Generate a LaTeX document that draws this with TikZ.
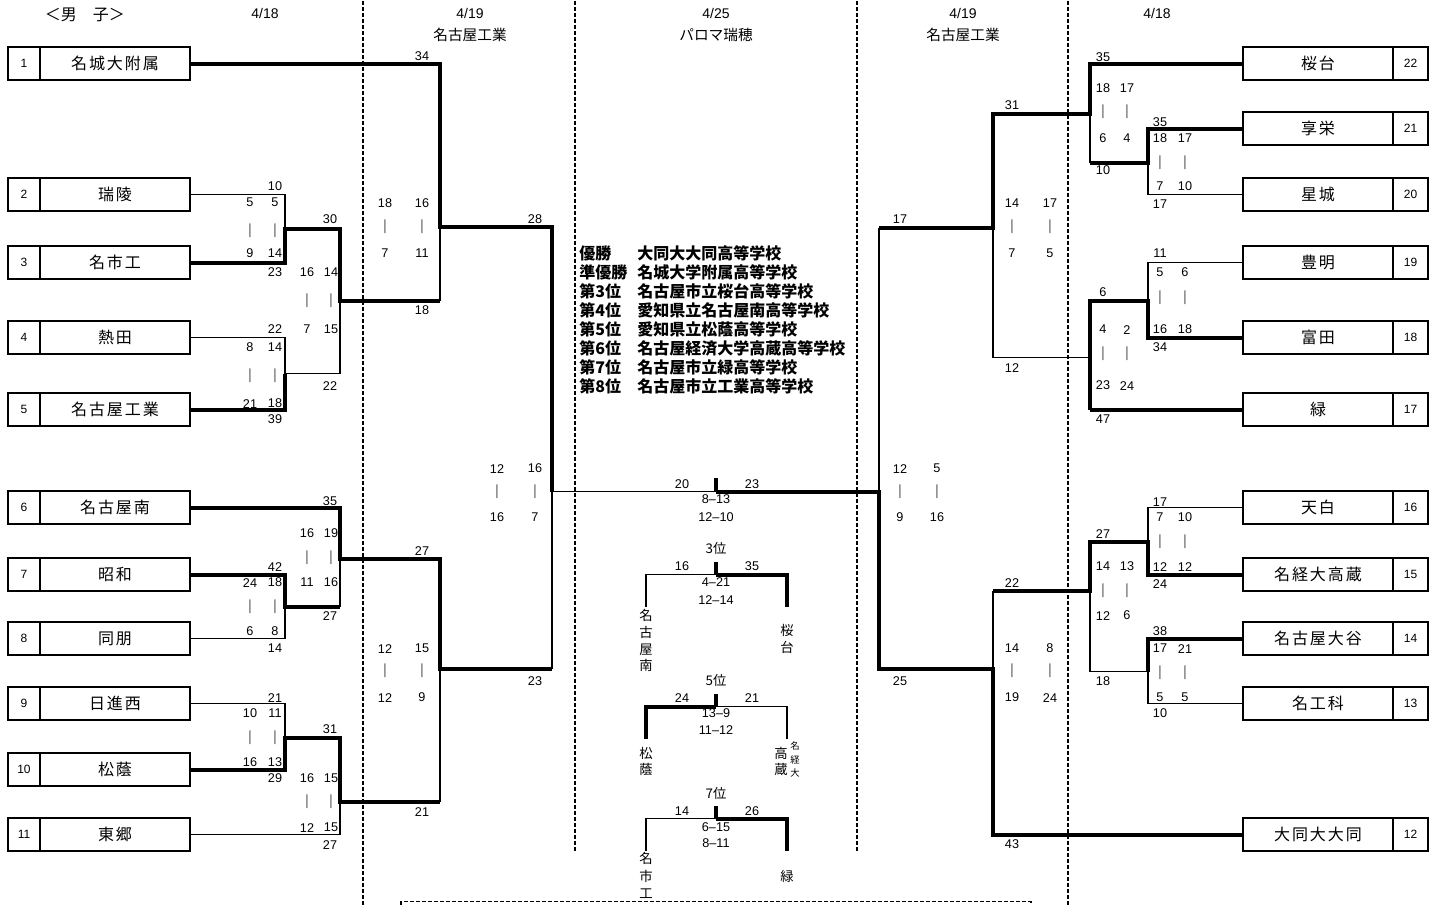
\documentclass[tikz,border=0pt]{standalone}
\usepackage{fontspec}
\setmainfont{Liberation Sans}
\newfontfamily\jp{Noto Sans CJK JP}
\newfontfamily\jpwide[LetterSpace=12]{Noto Sans CJK JP}
\begin{document}
\begin{tikzpicture}[x=0.75pt,y=-0.75pt,
  win/.style={line width=3pt},
  lose/.style={line width=1.1pt},
  sep/.style={line width=0.9pt, dash pattern=on 3pt off 1.5pt},
  teambox/.style={draw, line width=1.3pt, minimum width=112.5pt, minimum height=24.75pt, inner sep=0pt, font=\jpwide\fontsize{12}{14}\selectfont},
  numbox/.style={draw, line width=1.3pt, minimum height=24.75pt, inner sep=0pt, font=\fontsize{9}{10}\selectfont},
  num/.style={inner sep=0pt, font=\fontsize{9.5}{10}\selectfont},
  bar/.style={inner sep=0pt, text=black!60, font=\fontsize{11}{12}\selectfont},
  hdr/.style={inner sep=0pt, font=\fontsize{10.5}{12}\selectfont},
  venue/.style={inner sep=0pt, font=\jp\fontsize{11}{13}\selectfont},
  rank/.style={anchor=west, inner sep=0pt, font=\jp\bfseries\fontsize{12}{14}\selectfont},
  vname/.style={inner sep=0pt, align=center, font=\jp\fontsize{10}{12.5}\selectfont},
]
\path[fill=white] (0,0) rectangle (1436,904);
% day columns
\draw[sep] (363,0) -- (363,904);
\draw[sep] (575,0) -- (575,850);
\draw[sep] (857,0) -- (857,850);
\draw[sep] (1068,0) -- (1068,904);
\draw[sep] (401,904) -- (401,901) -- (1031,901) -- (1031,904);
\node[venue, font=\jp\fontsize{12}{14}\selectfont] (title) at (85,14) {＜男　子＞};
\node[hdr] (d1) at (265,13) {4/18};
\node[hdr] (d2) at (470,13) {4/19};
\node[venue] (v2) at (470,34) {名古屋工業};
\node[hdr] (d3) at (716,13) {4/25};
\node[venue] (v3) at (716,34) {パロマ瑞穂};
\node[hdr] (d4) at (963,13) {4/19};
\node[venue] (v4) at (963,34) {名古屋工業};
\node[hdr] (d5) at (1157,13) {4/18};
% teams
\foreach \n/\y/\name in {1/63/名城大附属, 2/194/瑞陵, 3/262/名市工, 4/337/熱田, 5/409/名古屋工業, 6/507/名古屋南, 7/574/昭和, 8/638/同朋, 9/703/日進西, 10/769/松蔭, 11/834/東郷}
{
  \node[teambox] (t\n) at (115,\y) {\name};
  \node[numbox, minimum width=24pt] (n\n) at (24,\y) {\n};
}
\foreach \n/\y/\name in {22/63/桜台, 21/128/享栄, 20/194/星城, 19/262/豊明, 18/337/富田, 17/409/緑, 16/507/天白, 15/574/名経大高蔵, 14/638/名古屋大谷, 13/703/名工科, 12/834/大同大大同}
{
  \node[teambox] (t\n) at (1318,\y) {\name};
  \node[numbox, minimum width=26.25pt] (n\n) at (1410.5,\y) {\n};
}
% left half
\draw[win] (t1.east) -- (440,63) -- (440,226) -- (552,226) -- (552,491);
\draw[lose] (t2.east) -- (285,194) -- (285,228);
\draw[win] (t3.east) -- (285,262) -- (285,228) -- (340,228) -- (340,300) -- (440,300);
\draw[lose] (440,300) -- (440,226);
\draw[lose] (t4.east) -- (285,337) -- (285,373) -- (340,373) -- (340,300);
\draw[win] (t5.east) -- (285,409) -- (285,373);
\draw[win] (t6.east) -- (340,507) -- (340,558) -- (440,558) -- (440,668) -- (552,668);
\draw[lose] (552,668) -- (552,491);
\draw[win] (t7.east) -- (285,574) -- (285,606) -- (340,606);
\draw[lose] (340,606) -- (340,558);
\draw[lose] (t8.east) -- (285,638) -- (285,606);
\draw[lose] (t9.east) -- (285,703) -- (285,737);
\draw[win] (t10.east) -- (285,769) -- (285,737) -- (340,737) -- (340,801) -- (440,801);
\draw[lose] (440,801) -- (440,668);
\draw[lose] (t11.east) -- (340,834) -- (340,801);
% right half
\draw[win] (t22.west) -- (1090,63) -- (1090,113) -- (993,113) -- (993,227) -- (879,227);
\draw[lose] (879,227) -- (879,491);
\draw[win] (t21.west) -- (1148,128) -- (1148,162) -- (1090,162);
\draw[lose] (1090,162) -- (1090,113);
\draw[lose] (t20.west) -- (1148,194) -- (1148,162);
\draw[lose] (t19.west) -- (1148,262) -- (1148,300);
\draw[win] (t18.west) -- (1148,337) -- (1148,300) -- (1090,300) -- (1090,409);
\draw[win] (t17.west) -- (1090,409);
\draw[lose] (1090,357) -- (993,357) -- (993,227);
\draw[lose] (t16.west) -- (1148,507) -- (1148,541);
\draw[win] (t15.west) -- (1148,574) -- (1148,541) -- (1090,541) -- (1090,590) -- (993,590);
\draw[lose] (1090,590) -- (1090,671) -- (1148,671);
\draw[win] (t14.west) -- (1148,638) -- (1148,671);
\draw[lose] (t13.west) -- (1148,703) -- (1148,671);
\draw[lose] (993,590) -- (993,668);
\draw[win] (t12.west) -- (993,834) -- (993,668) -- (879,668) -- (879,491) -- (716,491);
% final and placings
\draw[lose] (552,491) -- (716,491);
\draw[win] (716,477) -- (716,491);
\node[venue, font=\jp\fontsize{10}{12}\selectfont] (p3) at (716,548) {3位};
\draw[win] (716,561) -- (716,574);
\draw[lose] (646,606) -- (646,574) -- (716,574);
\draw[win] (716,574) -- (787,574) -- (787,606);
\node[venue, font=\jp\fontsize{10}{12}\selectfont] (p5) at (716,680) {5位};
\draw[win] (716,693) -- (716,706);
\draw[win] (646,738) -- (646,706) -- (716,706);
\draw[lose] (716,706) -- (787,706) -- (787,738);
\node[venue, font=\jp\fontsize{10}{12}\selectfont] (p7) at (716,793) {7位};
\draw[win] (716,805) -- (716,818);
\draw[lose] (646,850) -- (646,818) -- (716,818);
\draw[win] (716,818) -- (787,818) -- (787,850);
\node[vname] (m3l) at (646,640) {名\\古\\屋\\南};
\node[vname] (m3r) at (787,638) {桜\\台};
\node[vname] (m5l) at (646,761) {松\\蔭};
\node[vname] (m5r) at (781,761) {高\\蔵};
\node[vname, font=\jp\fontsize{7}{10}\selectfont] (m5s) at (795,759) {名\\経\\大};
\node[vname, font=\jp\fontsize{10}{13}\selectfont] (m7l) at (646,875) {名\\市\\工};
\node[vname] (m7r) at (787,876) {緑};
% game scores
\foreach \x/\y/\v [count=\i] in {422/56/34, 275/186/10, 275/272/23, 330/219/30, 275/328/22, 275/419/39, 330/385/22, 422/310/18, 535/219/28, 330/501/35, 275/566/42, 275/648/14, 330/615/27, 422/550/27, 275/697/21, 275/778/29, 330/729/31, 330/844/27, 422/811/21, 535/681/23, 682/484/20, 752/484/23, 682/566/16, 752/566/35, 682/697/24, 752/697/21, 682/811/14, 752/811/26, 900/219/17, 900/681/25, 1012/105/31, 1012/367/12, 1103/57/35, 1103/170/10, 1160/122/35, 1160/204/17, 1160/253/11, 1160/347/34, 1103/292/6, 1103/419/47, 1160/502/17, 1160/583/24, 1160/631/38, 1160/713/10, 1103/533/27, 1103/681/18, 1012/582/22, 1012/844/43}
  \node[num] (sc\i) at (\x,\y) {\v};
\foreach \y/\v [count=\i] in {499/8–13, 517/12–10, 581/4–21, 599/12–14, 713/13–9, 729/11–12, 827/6–15, 843/8–11}
  \node[num] (hs\i) at (716,\y) {\v};
% half scores
\foreach \xa/\xb/\ya/\ym/\yb/\a/\b/\c/\d [count=\i] in {250/275/202/230/253/5/5/9/14, 307/331/272/300/329/16/14/7/15, 250/275/347/375/403/8/14/21/18, 385/422/203/226/253/18/16/7/11, 497/535/468/491/517/12/16/16/7, 307/331/533/557/582/16/19/11/16, 250/275/582/606/631/24/18/6/8, 250/275/713/737/762/10/11/16/13, 307/331/778/801/827/16/15/12/15, 385/422/648/670/697/12/15/12/9, 900/937/468/491/517/12/5/9/16, 1012/1050/203/226/253/14/17/7/5, 1012/1050/648/670/697/14/8/19/24, 1103/1127/88/111/138/18/17/6/4, 1160/1185/138/162/186/18/17/7/10, 1160/1185/272/297/329/5/6/16/18, 1103/1127/329/353/385/4/2/23/24, 1160/1185/517/541/566/7/10/12/12, 1103/1127/566/590/615/14/13/12/6, 1160/1185/648/672/697/17/21/5/5}
{
  \node[num] (ga\i) at (\xa,\ya) {\a};
  \node[num] (gb\i) at (\xb,\ya) {\b};
  \node[bar] (ba\i) at (\xa,\ym) {|};
  \node[bar] (bb\i) at (\xb,\ym) {|};
  \node[num] (gc\i) at (\xa,\yb) {\c};
  \node[num] (gd\i) at (\xb,\yb) {\d};
}
% final standings
\foreach \lab/\sch [count=\i] in {優勝/大同大大同高等学校, 準優勝/名城大学附属高等学校, 第3位/名古屋市立桜台高等学校, 第4位/愛知県立名古屋南高等学校, 第5位/愛知県立松蔭高等学校, 第6位/名古屋経済大学高蔵高等学校, 第7位/名古屋市立緑高等学校, 第8位/名古屋市立工業高等学校}
{
  \node[rank] (rk\i) at (579,234+19*\i) {\lab};
  \node[rank] (rs\i) at (637,234+19*\i) {\sch};
}
\end{tikzpicture}
\end{document}
